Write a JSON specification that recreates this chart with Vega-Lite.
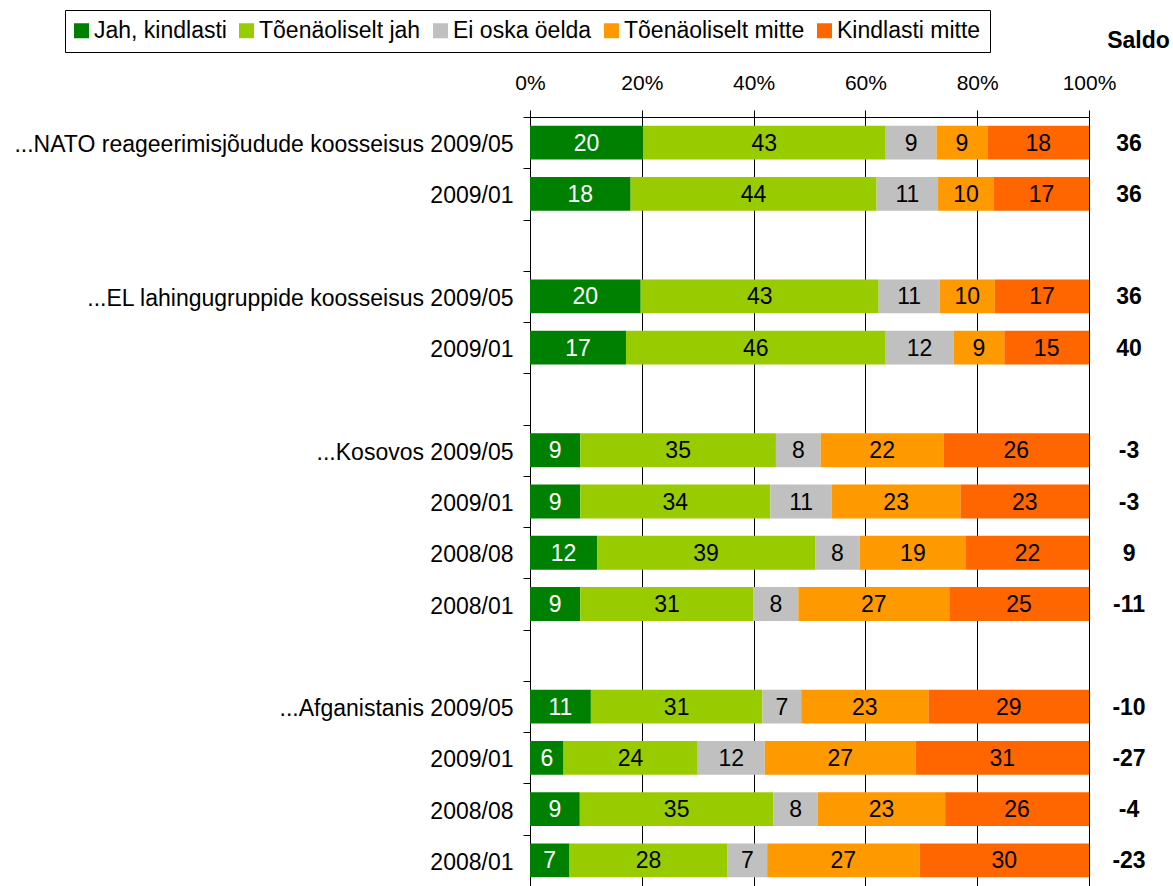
{
  "$schema": "https://vega.github.io/schema/vega-lite/v6.json",
  "width": 559,
  "height": 769,
  "autosize": {"type": "none"},
  "padding": {"left": 530, "top": 117, "right": 84, "bottom": 0},
  "background": "white",
  "config": {
    "font": "Liberation Sans",
    "view": {"stroke": null},
    "axis": {"domainColor": "#000000", "tickColor": "#000000", "labelColor": "#000000", "titleColor": "#000000"}
  },
  "datasets": {
    "bars": [
      {"key": "a|...NATO reageerimisjõudude koosseisus 2009/05", "cat": "Jah, kindlasti", "ord": 1, "v": 20},
      {"key": "a|...NATO reageerimisjõudude koosseisus 2009/05", "cat": "Tõenäoliselt jah", "ord": 2, "v": 43},
      {"key": "a|...NATO reageerimisjõudude koosseisus 2009/05", "cat": "Ei oska öelda", "ord": 3, "v": 9},
      {"key": "a|...NATO reageerimisjõudude koosseisus 2009/05", "cat": "Tõenäoliselt mitte", "ord": 4, "v": 9},
      {"key": "a|...NATO reageerimisjõudude koosseisus 2009/05", "cat": "Kindlasti mitte", "ord": 5, "v": 18},
      {"key": "b|2009/01", "cat": "Jah, kindlasti", "ord": 1, "v": 18},
      {"key": "b|2009/01", "cat": "Tõenäoliselt jah", "ord": 2, "v": 44},
      {"key": "b|2009/01", "cat": "Ei oska öelda", "ord": 3, "v": 11},
      {"key": "b|2009/01", "cat": "Tõenäoliselt mitte", "ord": 4, "v": 10},
      {"key": "b|2009/01", "cat": "Kindlasti mitte", "ord": 5, "v": 17},
      {"key": "d|...EL lahingugruppide koosseisus 2009/05", "cat": "Jah, kindlasti", "ord": 1, "v": 20},
      {"key": "d|...EL lahingugruppide koosseisus 2009/05", "cat": "Tõenäoliselt jah", "ord": 2, "v": 43},
      {"key": "d|...EL lahingugruppide koosseisus 2009/05", "cat": "Ei oska öelda", "ord": 3, "v": 11},
      {"key": "d|...EL lahingugruppide koosseisus 2009/05", "cat": "Tõenäoliselt mitte", "ord": 4, "v": 10},
      {"key": "d|...EL lahingugruppide koosseisus 2009/05", "cat": "Kindlasti mitte", "ord": 5, "v": 17},
      {"key": "e|2009/01", "cat": "Jah, kindlasti", "ord": 1, "v": 17},
      {"key": "e|2009/01", "cat": "Tõenäoliselt jah", "ord": 2, "v": 46},
      {"key": "e|2009/01", "cat": "Ei oska öelda", "ord": 3, "v": 12},
      {"key": "e|2009/01", "cat": "Tõenäoliselt mitte", "ord": 4, "v": 9},
      {"key": "e|2009/01", "cat": "Kindlasti mitte", "ord": 5, "v": 15},
      {"key": "g|...Kosovos 2009/05", "cat": "Jah, kindlasti", "ord": 1, "v": 9},
      {"key": "g|...Kosovos 2009/05", "cat": "Tõenäoliselt jah", "ord": 2, "v": 35},
      {"key": "g|...Kosovos 2009/05", "cat": "Ei oska öelda", "ord": 3, "v": 8},
      {"key": "g|...Kosovos 2009/05", "cat": "Tõenäoliselt mitte", "ord": 4, "v": 22},
      {"key": "g|...Kosovos 2009/05", "cat": "Kindlasti mitte", "ord": 5, "v": 26},
      {"key": "h|2009/01", "cat": "Jah, kindlasti", "ord": 1, "v": 9},
      {"key": "h|2009/01", "cat": "Tõenäoliselt jah", "ord": 2, "v": 34},
      {"key": "h|2009/01", "cat": "Ei oska öelda", "ord": 3, "v": 11},
      {"key": "h|2009/01", "cat": "Tõenäoliselt mitte", "ord": 4, "v": 23},
      {"key": "h|2009/01", "cat": "Kindlasti mitte", "ord": 5, "v": 23},
      {"key": "i|2008/08", "cat": "Jah, kindlasti", "ord": 1, "v": 12},
      {"key": "i|2008/08", "cat": "Tõenäoliselt jah", "ord": 2, "v": 39},
      {"key": "i|2008/08", "cat": "Ei oska öelda", "ord": 3, "v": 8},
      {"key": "i|2008/08", "cat": "Tõenäoliselt mitte", "ord": 4, "v": 19},
      {"key": "i|2008/08", "cat": "Kindlasti mitte", "ord": 5, "v": 22},
      {"key": "j|2008/01", "cat": "Jah, kindlasti", "ord": 1, "v": 9},
      {"key": "j|2008/01", "cat": "Tõenäoliselt jah", "ord": 2, "v": 31},
      {"key": "j|2008/01", "cat": "Ei oska öelda", "ord": 3, "v": 8},
      {"key": "j|2008/01", "cat": "Tõenäoliselt mitte", "ord": 4, "v": 27},
      {"key": "j|2008/01", "cat": "Kindlasti mitte", "ord": 5, "v": 25},
      {"key": "l|...Afganistanis 2009/05", "cat": "Jah, kindlasti", "ord": 1, "v": 11},
      {"key": "l|...Afganistanis 2009/05", "cat": "Tõenäoliselt jah", "ord": 2, "v": 31},
      {"key": "l|...Afganistanis 2009/05", "cat": "Ei oska öelda", "ord": 3, "v": 7},
      {"key": "l|...Afganistanis 2009/05", "cat": "Tõenäoliselt mitte", "ord": 4, "v": 23},
      {"key": "l|...Afganistanis 2009/05", "cat": "Kindlasti mitte", "ord": 5, "v": 29},
      {"key": "m|2009/01", "cat": "Jah, kindlasti", "ord": 1, "v": 6},
      {"key": "m|2009/01", "cat": "Tõenäoliselt jah", "ord": 2, "v": 24},
      {"key": "m|2009/01", "cat": "Ei oska öelda", "ord": 3, "v": 12},
      {"key": "m|2009/01", "cat": "Tõenäoliselt mitte", "ord": 4, "v": 27},
      {"key": "m|2009/01", "cat": "Kindlasti mitte", "ord": 5, "v": 31},
      {"key": "n|2008/08", "cat": "Jah, kindlasti", "ord": 1, "v": 9},
      {"key": "n|2008/08", "cat": "Tõenäoliselt jah", "ord": 2, "v": 35},
      {"key": "n|2008/08", "cat": "Ei oska öelda", "ord": 3, "v": 8},
      {"key": "n|2008/08", "cat": "Tõenäoliselt mitte", "ord": 4, "v": 23},
      {"key": "n|2008/08", "cat": "Kindlasti mitte", "ord": 5, "v": 26},
      {"key": "o|2008/01", "cat": "Jah, kindlasti", "ord": 1, "v": 7},
      {"key": "o|2008/01", "cat": "Tõenäoliselt jah", "ord": 2, "v": 28},
      {"key": "o|2008/01", "cat": "Ei oska öelda", "ord": 3, "v": 7},
      {"key": "o|2008/01", "cat": "Tõenäoliselt mitte", "ord": 4, "v": 27},
      {"key": "o|2008/01", "cat": "Kindlasti mitte", "ord": 5, "v": 30}
    ],
    "saldo": [
      {"key": "a|...NATO reageerimisjõudude koosseisus 2009/05", "saldo": 36},
      {"key": "b|2009/01", "saldo": 36},
      {"key": "d|...EL lahingugruppide koosseisus 2009/05", "saldo": 36},
      {"key": "e|2009/01", "saldo": 40},
      {"key": "g|...Kosovos 2009/05", "saldo": -3},
      {"key": "h|2009/01", "saldo": -3},
      {"key": "i|2008/08", "saldo": 9},
      {"key": "j|2008/01", "saldo": -11},
      {"key": "l|...Afganistanis 2009/05", "saldo": -10},
      {"key": "m|2009/01", "saldo": -27},
      {"key": "n|2008/08", "saldo": -4},
      {"key": "o|2008/01", "saldo": -23}
    ]
  },
  "layer": [
    {
      "data": {"name": "bars"},
      "mark": {"type": "bar", "height": {"band": 0.66}},
      "encoding": {
        "y": {
          "field": "key", "type": "nominal",
          "scale": {"domain": ["a|...NATO reageerimisjõudude koosseisus 2009/05", "b|2009/01", "c|", "d|...EL lahingugruppide koosseisus 2009/05", "e|2009/01", "f|", "g|...Kosovos 2009/05", "h|2009/01", "i|2008/08", "j|2008/01", "k|", "l|...Afganistanis 2009/05", "m|2009/01", "n|2008/08", "o|2008/01"], "paddingInner": 0, "paddingOuter": 0},
          "axis": {"title": null, "labelExpr": "split(datum.value, '|')[1]", "tickBand": "extent", "tickSize": 7, "labelPadding": 10, "labelOffset": 2, "labelFontSize": 23, "labelLimit": 800, "grid": false, "domainWidth": 1, "tickWidth": 1}
        },
        "x": {
          "field": "v", "type": "quantitative", "stack": "normalize",
          "scale": {"domain": [0, 1], "nice": false, "zero": true},
          "axis": {"orient": "top", "values": [0, 0.2, 0.4, 0.6, 0.8, 1], "format": ".0%", "labelFlush": false, "labelFontSize": 21, "labelBaseline": "alphabetic", "labelPadding": 21, "tickSize": 7, "grid": true, "gridColor": "#000000", "gridOpacity": 1, "gridWidth": 1, "title": "Saldo", "titleX": 608, "titleY": -70, "titleAlign": "center", "titleBaseline": "alphabetic", "titleFontSize": 23, "titleFontWeight": "bold", "titleAngle": 0}
        },
        "color": {
          "field": "cat", "type": "nominal",
          "scale": {"domain": ["Jah, kindlasti", "Tõenäoliselt jah", "Ei oska öelda", "Tõenäoliselt mitte", "Kindlasti mitte"], "range": ["#008000", "#99CC00", "#C0C0C0", "#FF9900", "#FF6600"]},
          "legend": {"orient": "none", "legendX": -465, "legendY": -107, "direction": "horizontal", "title": null, "symbolType": "square", "symbolSize": 225, "symbolStrokeWidth": 0, "symbolOpacity": 1, "symbolOffset": -4, "labelFontSize": 23, "labelColor": "#000000", "labelOffset": 1, "labelLimit": 400, "columnPadding": 12, "padding": 9, "strokeColor": "#000000", "fillColor": "#ffffff"}
        },
        "order": {"field": "ord", "type": "quantitative"}
      }
    },
    {
      "data": {"name": "bars"},
      "mark": {"type": "text", "fontSize": 23, "dy": 1},
      "encoding": {
        "y": {
          "field": "key", "type": "nominal",
          "scale": {"domain": ["a|...NATO reageerimisjõudude koosseisus 2009/05", "b|2009/01", "c|", "d|...EL lahingugruppide koosseisus 2009/05", "e|2009/01", "f|", "g|...Kosovos 2009/05", "h|2009/01", "i|2008/08", "j|2008/01", "k|", "l|...Afganistanis 2009/05", "m|2009/01", "n|2008/08", "o|2008/01"], "paddingInner": 0, "paddingOuter": 0}
        },
        "x": {"field": "v", "type": "quantitative", "stack": "normalize", "bandPosition": 0.5, "scale": {"domain": [0, 1], "nice": false, "zero": true}},
        "detail": {"field": "cat"},
        "order": {"field": "ord", "type": "quantitative"},
        "text": {"field": "v", "type": "nominal"},
        "color": {"condition": {"test": "datum.cat === 'Jah, kindlasti'", "value": "#ffffff"}, "value": "#000000"}
      }
    },
    {
      "data": {"name": "saldo"},
      "mark": {"type": "text", "fontSize": 23, "fontWeight": "bold", "dy": 1, "align": "center", "color": "#000000"},
      "encoding": {
        "y": {
          "field": "key", "type": "nominal",
          "scale": {"domain": ["a|...NATO reageerimisjõudude koosseisus 2009/05", "b|2009/01", "c|", "d|...EL lahingugruppide koosseisus 2009/05", "e|2009/01", "f|", "g|...Kosovos 2009/05", "h|2009/01", "i|2008/08", "j|2008/01", "k|", "l|...Afganistanis 2009/05", "m|2009/01", "n|2008/08", "o|2008/01"], "paddingInner": 0, "paddingOuter": 0}
        },
        "x": {"datum": 1.0716, "type": "quantitative", "scale": {"domain": [0, 1], "nice": false, "zero": true}},
        "text": {"field": "saldo", "type": "nominal"}
      }
    }
  ]
}
